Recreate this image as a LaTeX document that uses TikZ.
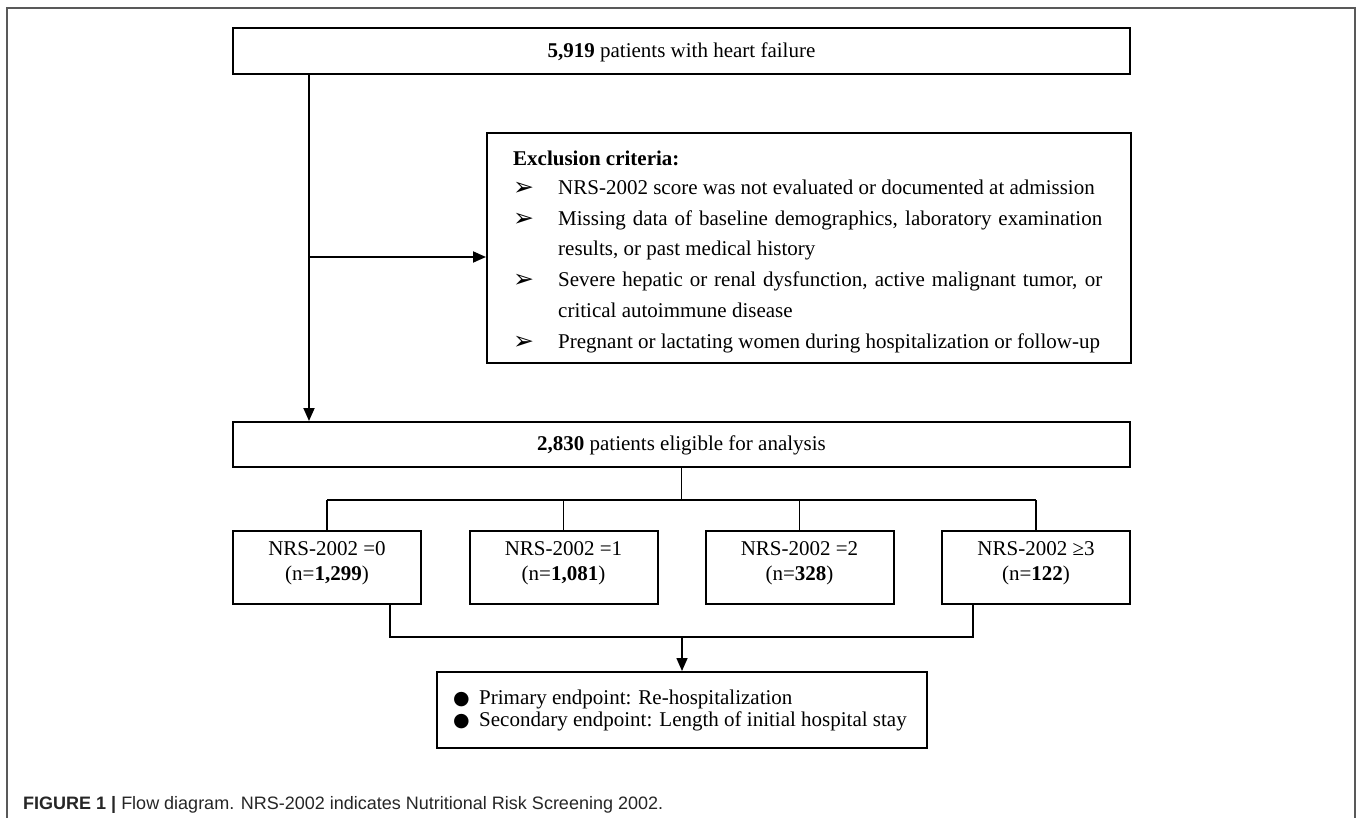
\documentclass[tikz,border=0pt]{standalone}
\usepackage{fontspec}
\setmainfont{Liberation Serif}
\newfontfamily\capfont{Liberation Sans}
\newfontfamily\symfont{DejaVu Sans}
\usetikzlibrary{arrows.meta}
\newcommand{\xitem}{\makebox[45pt][l]{\raisebox{-1pt}{\symfont\fontsize{25}{25}\selectfont ➢}}}
\newcommand{\xcont}{\hspace*{45pt}}
\newcommand{\dotitem}{\makebox[26pt][l]{\symfont\fontsize{19}{19}\selectfont ●}}
\begin{document}
\begin{tikzpicture}[x=1pt,y=-1pt,
  box/.style={draw=black,line width=2pt,inner sep=0pt,fill=white},
  conn/.style={draw=black,line width=1.8pt},
  arr/.style={conn,-{Triangle[length=13pt,width=11pt]}},
  txt/.style={inner sep=0pt,font=\fontsize{21}{25}\selectfont},
]
\useasboundingbox (0,0) rectangle (1357,818);
\fill[white] (0,0) rectangle (1357,818);
\draw[color=black!65, line width=1.6pt] (7,830) -- (7,8) -- (1355,8) -- (1355,830);

% boxes
\node[box,minimum width=897pt,minimum height=46pt] (top) at (681.5,51) {};
\node[txt] (toptxt) at (681.5,52) {\textbf{5,919} patients with heart failure};

\node[box,minimum width=644pt,minimum height=230pt] (excl) at (809,248) {};
\node[anchor=base west,inner sep=0pt] (excltxt) at (513,166) {%
\begin{minipage}[t]{589pt}\fontsize{21}{30.8}\selectfont
\textbf{Exclusion criteria:}\\[-2.5pt]
\xitem NRS-2002 score was not evaluated or documented at admission\\
\xitem \makebox[544pt][s]{Missing data of baseline demographics, laboratory examination}\\
\xcont results, or past medical history\\
\xitem \makebox[544pt][s]{Severe hepatic or renal dysfunction, active malignant tumor, or}\\
\xcont critical autoimmune disease\\
\xitem Pregnant or lactating women during hospitalization or follow-up
\end{minipage}};

\node[box,minimum width=897pt,minimum height=45pt] (elig) at (681.5,444.5) {};
\node[txt] (eligtxt) at (681.5,445.5) {\textbf{2,830} patients eligible for analysis};

\node[box,minimum width=188pt,minimum height=73pt] (n0) at (327,567.5) {};
\node[box,minimum width=188pt,minimum height=73pt] (n1) at (563.5,567.5) {};
\node[box,minimum width=188pt,minimum height=73pt] (n2) at (799.5,567.5) {};
\node[box,minimum width=188pt,minimum height=73pt] (n3) at (1036,567.5) {};
\node[txt,align=center] (n0t) at (327,563) {NRS-2002 =0\\(n=\textbf{1,299})};
\node[txt,align=center] (n1t) at (563.5,563) {NRS-2002 =1\\(n=\textbf{1,081})};
\node[txt,align=center] (n2t) at (799.5,563) {NRS-2002 =2\\(n=\textbf{328})};
\node[txt,align=center] (n3t) at (1036,563) {NRS-2002 ≥3\\(n=\textbf{122})};

\node[box,minimum width=490pt,minimum height=76pt] (endp) at (682,710) {};
\node[anchor=base west,inner sep=0pt] (endtxt) at (453,704.5) {%
\begin{minipage}[t]{470pt}\fontsize{21}{21.5}\selectfont\raggedright
\mbox{\dotitem Primary endpoint: Re-hospitalization}\\
\mbox{\dotitem Secondary endpoint: Length of initial hospital stay}
\end{minipage}};

% connectors
\coordinate (trunk) at (309,257);
\draw[arr] (top.south -| trunk) -- (elig.north -| trunk);
\draw[arr] (trunk) -- (excl.west |- trunk);

\coordinate (split) at (681.5,500);
\draw[conn,line width=1.6pt] (elig.south -| split) -- (split);
\draw[conn,line width=1.6pt] (n0.north |- split) -- (n3.north |- split);
\foreach \n in {n0,n1,n2,n3} {\draw[conn,line width=1.6pt] (\n.north |- split) -- (\n.north);}

\coordinate (jl) at (390,637);
\coordinate (jr) at (973,637);
\coordinate (join) at (682,637);
\draw[conn,line width=1.6pt] (n0.south -| jl) -- (jl) -- (jr) -- (n3.south -| jr);
\draw[arr,line width=1.6pt] (join) -- (endp.north -| join);

% caption
\node[anchor=base west,inner sep=0pt,text=black!85,font=\capfont\fontsize{18}{18}\selectfont] (cap) at (23,809)
  {\textbf{FIGURE 1} \textbf{|} Flow diagram. NRS-2002 indicates Nutritional Risk Screening 2002.};
\end{tikzpicture}
\end{document}
